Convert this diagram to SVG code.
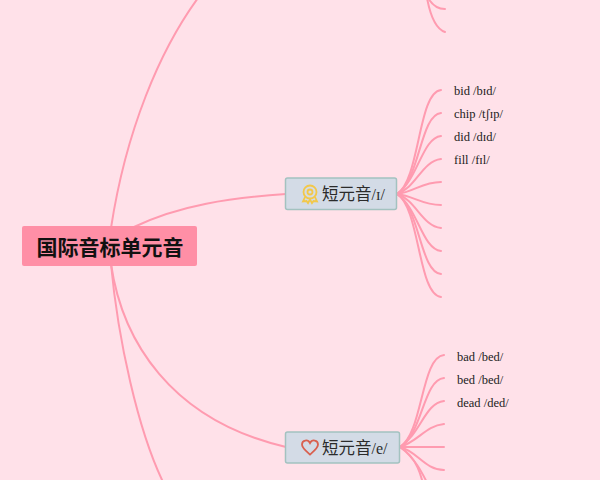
<svg xmlns="http://www.w3.org/2000/svg" width="600" height="480" viewBox="0 0 600 480">
<style>
.c{fill:none;stroke:#ff9bb0;stroke-width:2;stroke-linecap:round}
.n{fill:#d3dbe6;stroke:#a3c2c0;stroke-width:1.5}
.m{font-family:"Liberation Serif","Noto Sans CJK SC",serif;font-size:16px;fill:#2b2b2b}
.m tspan{font-family:"Noto Sans CJK SC",sans-serif;font-size:16.500px}
.l{font-family:"Liberation Serif","DejaVu Serif",serif;font-size:12.500px;fill:#222}
</style>
<rect width="600" height="480" fill="#ffe1e9"/>
<g id="connectors">
<path class="c" d="M111 228C126 130 160 50 198 -2"/>
<path class="c" d="M134 227C180 205 230 198 286 194"/>
<path class="c" d="M111 264C122 340 170 420 286 447"/>
<path class="c" d="M111 264C118 340 138 430 163 482"/>
<path class="c" d="M397 194C420 180 418 92 441 90"/>
<path class="c" d="M397 194C420 180 420 115 441 113"/>
<path class="c" d="M397 194C418 180 422 138 441 136"/>
<path class="c" d="M397 194C416 188 422 161 441 159"/>
<path class="c" d="M397 194C414 192 422 182 441 182"/>
<path class="c" d="M397 194C414 196 422 205 441 205"/>
<path class="c" d="M397 194C416 200 422 226 441 228"/>
<path class="c" d="M397 194C418 208 422 249 441 251"/>
<path class="c" d="M397 194C420 208 420 272 441 274"/>
<path class="c" d="M397 194C420 208 418 295 441 297"/>
<path class="c" d="M400 447C423 433 421 357 444 355"/>
<path class="c" d="M400 447C423 433 423 380 444 378"/>
<path class="c" d="M400 447C421 433 425 403 444 401"/>
<path class="c" d="M400 447C419 441 425 426 444 424"/>
<path class="c" d="M400 447L444 447"/>
<path class="c" d="M400 447C417 451 425 470 444 470"/>
<path class="c" d="M400 447C419 461 425 480 436 500"/>
<path class="c" d="M400 447C423 461 423 490 430 510"/>
<path class="c" d="M428 -2C431 3 437 9 445 9"/>
<path class="c" d="M427 -2C430 14 436 29 445 32"/>
</g>
<g id="root">
<rect x="22" y="226" width="175" height="40" rx="2" fill="#ff8fa6"/>
<text x="110" y="255" text-anchor="middle" font-family="'Noto Sans CJK SC',sans-serif" font-size="21" font-weight="700" fill="#111">国际音标单元音</text>
</g>
<g id="node-i">
<rect class="n" x="285.500" y="178" width="111" height="31.500" rx="2"/>
<g fill="none" stroke="#f2c84b" stroke-width="1.800">
<circle cx="310" cy="192" r="6.500"/><circle cx="310" cy="192" r="2.500"/>
<path d="M305 197L303 201.500L306.500 201L308 203L310 199.500L312 203L313.500 201L317 201.500L315 197"/>
</g>
<text class="m" x="322" y="200"><tspan>短元音</tspan>/ɪ/</text>
</g>
<g id="node-e">
<rect class="n" x="285.500" y="432" width="114" height="31" rx="2"/>
<path d="M310 454.500C306 451 302 448 302 444.500C302 440 308 439 310 443C312 439 318 440 318 444.500C318 448 314 451 310 454.500Z" fill="none" stroke="#d9604f" stroke-width="1.800"/>
<text class="m" x="322" y="454"><tspan>短元音</tspan>/e/</text>
</g>
<g id="leaf-bid"><text class="l" x="454" y="95">bid /bɪd/</text></g>
<g id="leaf-chip"><text class="l" x="454" y="118">chip /tʃɪp/</text></g>
<g id="leaf-did"><text class="l" x="454" y="141">did /dɪd/</text></g>
<g id="leaf-fill"><text class="l" x="454" y="164">fill /fɪl/</text></g>
<g id="leaf-bad"><text class="l" x="457" y="361">bad /bed/</text></g>
<g id="leaf-bed"><text class="l" x="457" y="384">bed /bed/</text></g>
<g id="leaf-dead"><text class="l" x="457" y="407">dead /ded/</text></g>
</svg>
